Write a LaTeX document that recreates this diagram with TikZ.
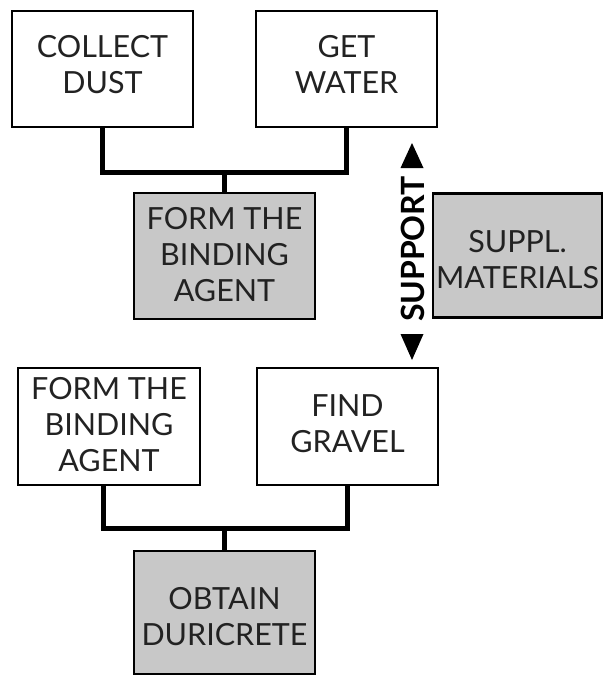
\documentclass[tikz,border=0pt]{standalone}
\usepackage{fontspec}
\setmainfont{Lato}
\definecolor{txt}{HTML}{222222}
\definecolor{boxgray}{HTML}{C8C8C8}
\begin{document}
\begin{tikzpicture}[x=1pt,y=-1pt,
  stepbox/.style={draw=black,line width=2.5pt,rectangle,inner sep=0pt,align=center,
    text=txt,font=\fontsize{30.5}{36}\selectfont,minimum width=181pt},
  graybox/.style={stepbox,fill=boxgray},
  link/.style={line width=5pt,line join=miter,line cap=rect}]
\useasboundingbox (0,0) rectangle (603,675);
\node[stepbox,minimum height=116pt,text depth=10pt] (cd) at (102.5,69) {COLLECT\\DUST};
\node[stepbox,minimum height=116pt,text depth=10pt] (gw) at (346.5,69) {GET\\WATER};
\node[graybox,minimum height=126pt,text depth=4pt] (fb1) at (224.5,256) {FORM THE\\BINDING\\AGENT};
\node[graybox,minimum width=169pt,minimum height=124pt,text height=65pt,text depth=0pt] (sm) at (517.5,255.5) {SUPPL.\\MATERIALS};
\node[stepbox,minimum width=182pt,minimum height=117pt,text depth=5pt] (fb2) at (109,426.5) {FORM THE\\BINDING\\AGENT};
\node[stepbox,minimum height=117pt,text depth=5pt] (fg) at (347.5,426.5) {FIND\\GRAVEL};
\node[graybox,minimum height=123pt,text height=66pt,text depth=0pt] (od) at (224.5,612.5) {OBTAIN\\DURICRETE};
\node[rotate=90,font=\fontsize{32}{36}\selectfont\bfseries,inner sep=0pt] (sup) at (412.5,249) {SUPPORT};
\coordinate (j1) at (224.5,172);
\coordinate (j2) at (224.5,528);
\draw[link] (cd.south) |- (j1) -| (gw.south);
\draw[link] (j1) -- (fb1.north);
\draw[link] ([xshift=-6pt]fb2.south) |- (j2) -| (fg.south);
\draw[link] (j2) -- (od.north);
\fill (412,143) -- (423.5,168) -- (400.5,168) -- cycle;
\fill (412,360) -- (423.5,334) -- (400.5,334) -- cycle;
\end{tikzpicture}
\end{document}
